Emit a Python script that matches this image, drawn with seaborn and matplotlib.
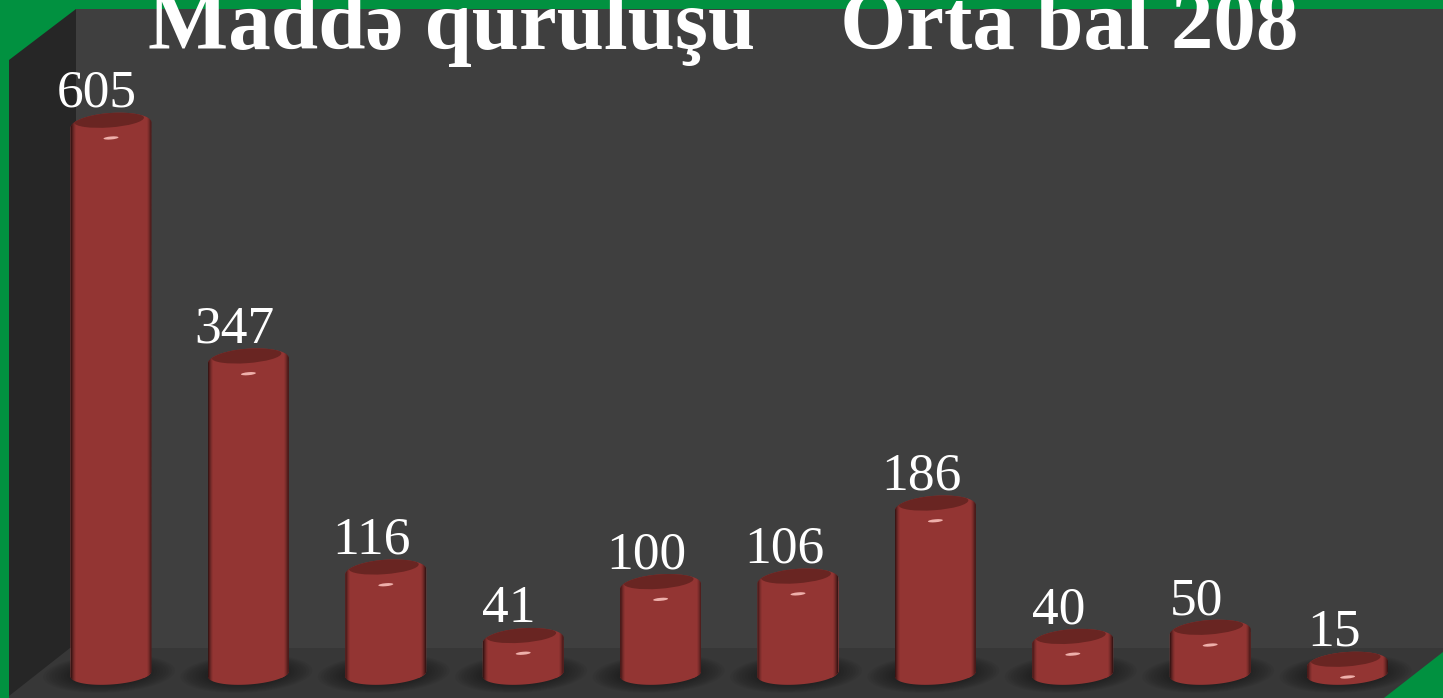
import numpy as np
import pandas as pd
import matplotlib
matplotlib.use('Agg')
import matplotlib.pyplot as plt
import seaborn as sns
from matplotlib.patches import Ellipse, Polygon
from matplotlib.path import Path
from matplotlib.transforms import Affine2D

# =========================
# DATA
# =========================
categories = ['1', '2', '3', '4', '5', '6', '7', '8', '9', '10']
values = [605, 347, 116, 41, 100, 106, 186, 40, 50, 15]
title_text = 'Maddə quruluşu    Orta bal 208'

# =========================
# COLOURS / LAYOUT
# =========================
W, H = 1443, 698
GREEN = '#019140'
WALL = '#3f3f3f'
SIDE = '#262626'
FLOOR = '#373737'
BAR = '#933533'
BAR_TOP = '#692522'
ZERO_PX = 677.7
PX_PER_UNIT = 0.9136
X0_PX = 111
STEP_PX = 137.4
BAR_W = 81

sns.set_theme(style='white')
plt.rcParams['font.family'] = ['Liberation Serif', 'DejaVu Serif']

fig = plt.figure(figsize=(W / 100, H / 100), dpi=100, facecolor=GREEN)
ax = fig.add_axes([0, 0, 1, 1])
ax.set_facecolor(GREEN)

# pixels measured from the top left corner, for the room behind the chart
px = Affine2D().scale(1, -1).translate(0, H)


def room(points, color, z=0):
    ax.add_patch(Polygon(points, closed=True, fc=color, ec='none', transform=px, zorder=z))


def arc(cx, cy, w, h, deg, t):
    a = np.radians(deg)
    x = w / 2 * np.cos(t)
    y = h / 2 * np.sin(t)
    return np.column_stack([cx + x * np.cos(a) - y * np.sin(a), cy + x * np.sin(a) + y * np.cos(a)])


df = pd.DataFrame({'cat': categories, 'val': values})
sns.barplot(data=df, x='cat', y='val', color=BAR, saturation=1, width=BAR_W / STEP_PX,
            ax=ax, zorder=3, linewidth=0)
ax.set_xlim(-X0_PX / STEP_PX, (W - X0_PX) / STEP_PX)
ax.set_ylim((ZERO_PX - H) / PX_PER_UNIT, ZERO_PX / PX_PER_UNIT)
ax.axis('off')

room([(76, 9), (W, 9), (W, H), (76, H)], WALL)
room([(9, 60), (76, 9), (76, H), (9, H)], SIDE)
room([(70, 648), (W, 648), (W, H), (9, H), (9, 696)], FLOOR, z=0.5)
room([(W, 652), (W, H), (1384, H)], GREEN, z=5)

# side shading of the cylinders
shade = np.zeros((1, 81, 4))
edge = np.clip(1 - np.minimum(np.arange(81), np.arange(81)[::-1]) / 5, 0, 1)
shade[0, :, 3] = 0.6 * edge ** 1.5
xlim, ylim = ax.get_xlim(), ax.get_ylim()

for bar, v in zip(ax.patches, values):
    xc = bar.get_x() + bar.get_width() / 2
    cx, cy = px.inverted().transform(ax.transData.transform((xc, v)))
    bx, by = px.inverted().transform(ax.transData.transform((xc, 0)))
    by_c = by - 3.7

    # cylinder outline: top half of the upper ellipse, bottom half of the lower one
    top = arc(cx, cy, BAR_W, 24, -4, np.linspace(np.pi, 2 * np.pi, 40))
    low = arc(cx, by_c, BAR_W, 21, -4, np.linspace(0, np.pi, 40))
    outline = Path(np.vstack([top, low, top[:1]]), closed=True)

    # soft shadow on the floor
    for k in range(12):
        ax.add_patch(Ellipse((bx - 2, by - 4), 132 - k * 6, 38 - k * 1.8, angle=-3, fc='black',
                             ec='none', alpha=0.045, transform=px, zorder=1))
    # body, clipped to the outline
    bar.set_clip_path(outline, px)
    ax.add_patch(Polygon(np.vstack([top, low]), closed=True, fc=BAR, ec='none', transform=px, zorder=2.9))
    img = ax.imshow(shade, extent=[xc - bar.get_width() / 2, xc + bar.get_width() / 2,
                                   -20, v + 20], aspect='auto', zorder=3.2, interpolation='bilinear')
    img.set_clip_path(outline, px)
    # flat dark cap, kept inside the outer ellipse
    cap = Ellipse((cx - 2, cy - 5), 70, 15, angle=-4, fc=BAR_TOP, ec='none', transform=px, zorder=3.6)
    ax.add_patch(cap)
    cap.set_clip_path(outline, px)
    # highlight
    ax.add_patch(Ellipse((cx, cy + 13), 15, 3, angle=-5, fc='#eeb0ab', ec='none', transform=px, zorder=3.8))
    # value label
    ax.text(cx - 14, cy - 18, str(v), transform=px, ha='center', va='baseline',
            color='white', fontsize=38.5, zorder=6)

ax.set_xlim(xlim)
ax.set_ylim(ylim)

ax.text(723, 49, title_text, transform=px, ha='center', va='baseline', color='white',
        fontsize=61.2, fontweight='bold', zorder=7)

fig.savefig('out.png', dpi=100, facecolor=GREEN)
